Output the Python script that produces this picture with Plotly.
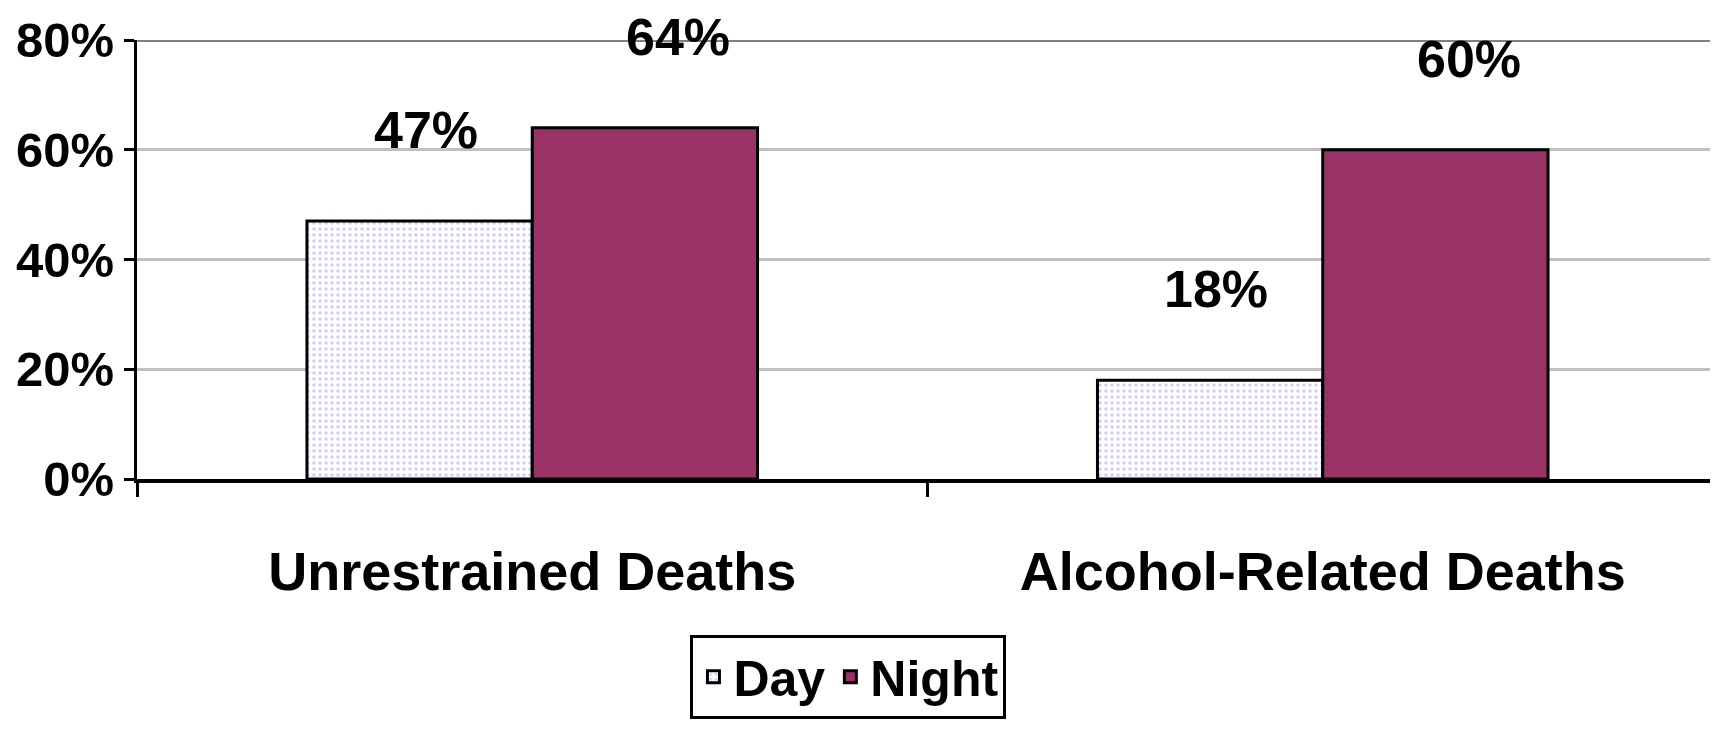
import plotly.graph_objects as go

categories = ["Unrestrained Deaths", "Alcohol-Related Deaths"]
day_pct = [47, 18]
night_pct = [64, 60]
y_ticks = [0, 20, 40, 60, 80]

FONT = "Liberation Sans Narrow, Arial Narrow, Liberation Sans, Arial"


def bold(size):
    return dict(family=FONT, size=size, color="black", weight="bold")


fig = go.Figure()
fig.add_trace(go.Bar(
    name="Day", x=categories, y=day_pct,
    marker=dict(color="white", line=dict(color="black", width=3),
                pattern=dict(shape=".", fgcolor="#9a9aff", bgcolor="white",
                             size=6, solidity=0.25)),
))
fig.add_trace(go.Bar(
    name="Night", x=categories, y=night_pct,
    marker=dict(color="#993366", line=dict(color="black", width=3)),
))

# value labels float well above the bars
for i, cat in enumerate(categories):
    for val, off in ((day_pct[i], -0.135), (night_pct[i], 0.185)):
        fig.add_annotation(x=i + off, y=val, text=f"{val}%", showarrow=False,
                           yshift=91, xref="x", yref="y", font=bold(52))

# darker line along the top of the plot
fig.add_shape(type="line", xref="paper", yref="y", x0=0, x1=1, y0=80, y1=80,
              line=dict(color="#808080", width=4))

# page body has an 8px margin, so margins are trimmed to land the plot in place
fig.update_layout(
    width=1718, height=739,
    margin=dict(l=129, r=8, t=32, b=268),
    plot_bgcolor="white", paper_bgcolor="white",
    barmode="group", bargap=0.43, bargroupgap=0,
    font=bold(54),
    showlegend=True,
    legend=dict(orientation="h", x=0.45, xanchor="center", y=-0.355, yanchor="top",
                bordercolor="black", borderwidth=3, bgcolor="white",
                font=bold(50), itemwidth=30, traceorder="normal"),
)
fig.update_yaxes(
    range=[0, 80], tickvals=y_ticks, ticktext=[f"{v}%" for v in y_ticks],
    showgrid=True, gridcolor="#c0c0c0", gridwidth=3,
    showline=True, linecolor="black", linewidth=3,
    ticks="outside", ticklen=10, tickwidth=3, tickcolor="black",
    tickfont=bold(49), zeroline=False, automargin=False,
)
fig.update_xaxes(
    showline=True, linecolor="black", linewidth=4,
    ticks="outside", tickson="boundaries", ticklen=14, tickwidth=3, tickcolor="black",
    tickfont=bold(54), ticklabelstandoff=42, automargin=False,
)

fig.write_html("out.html")
